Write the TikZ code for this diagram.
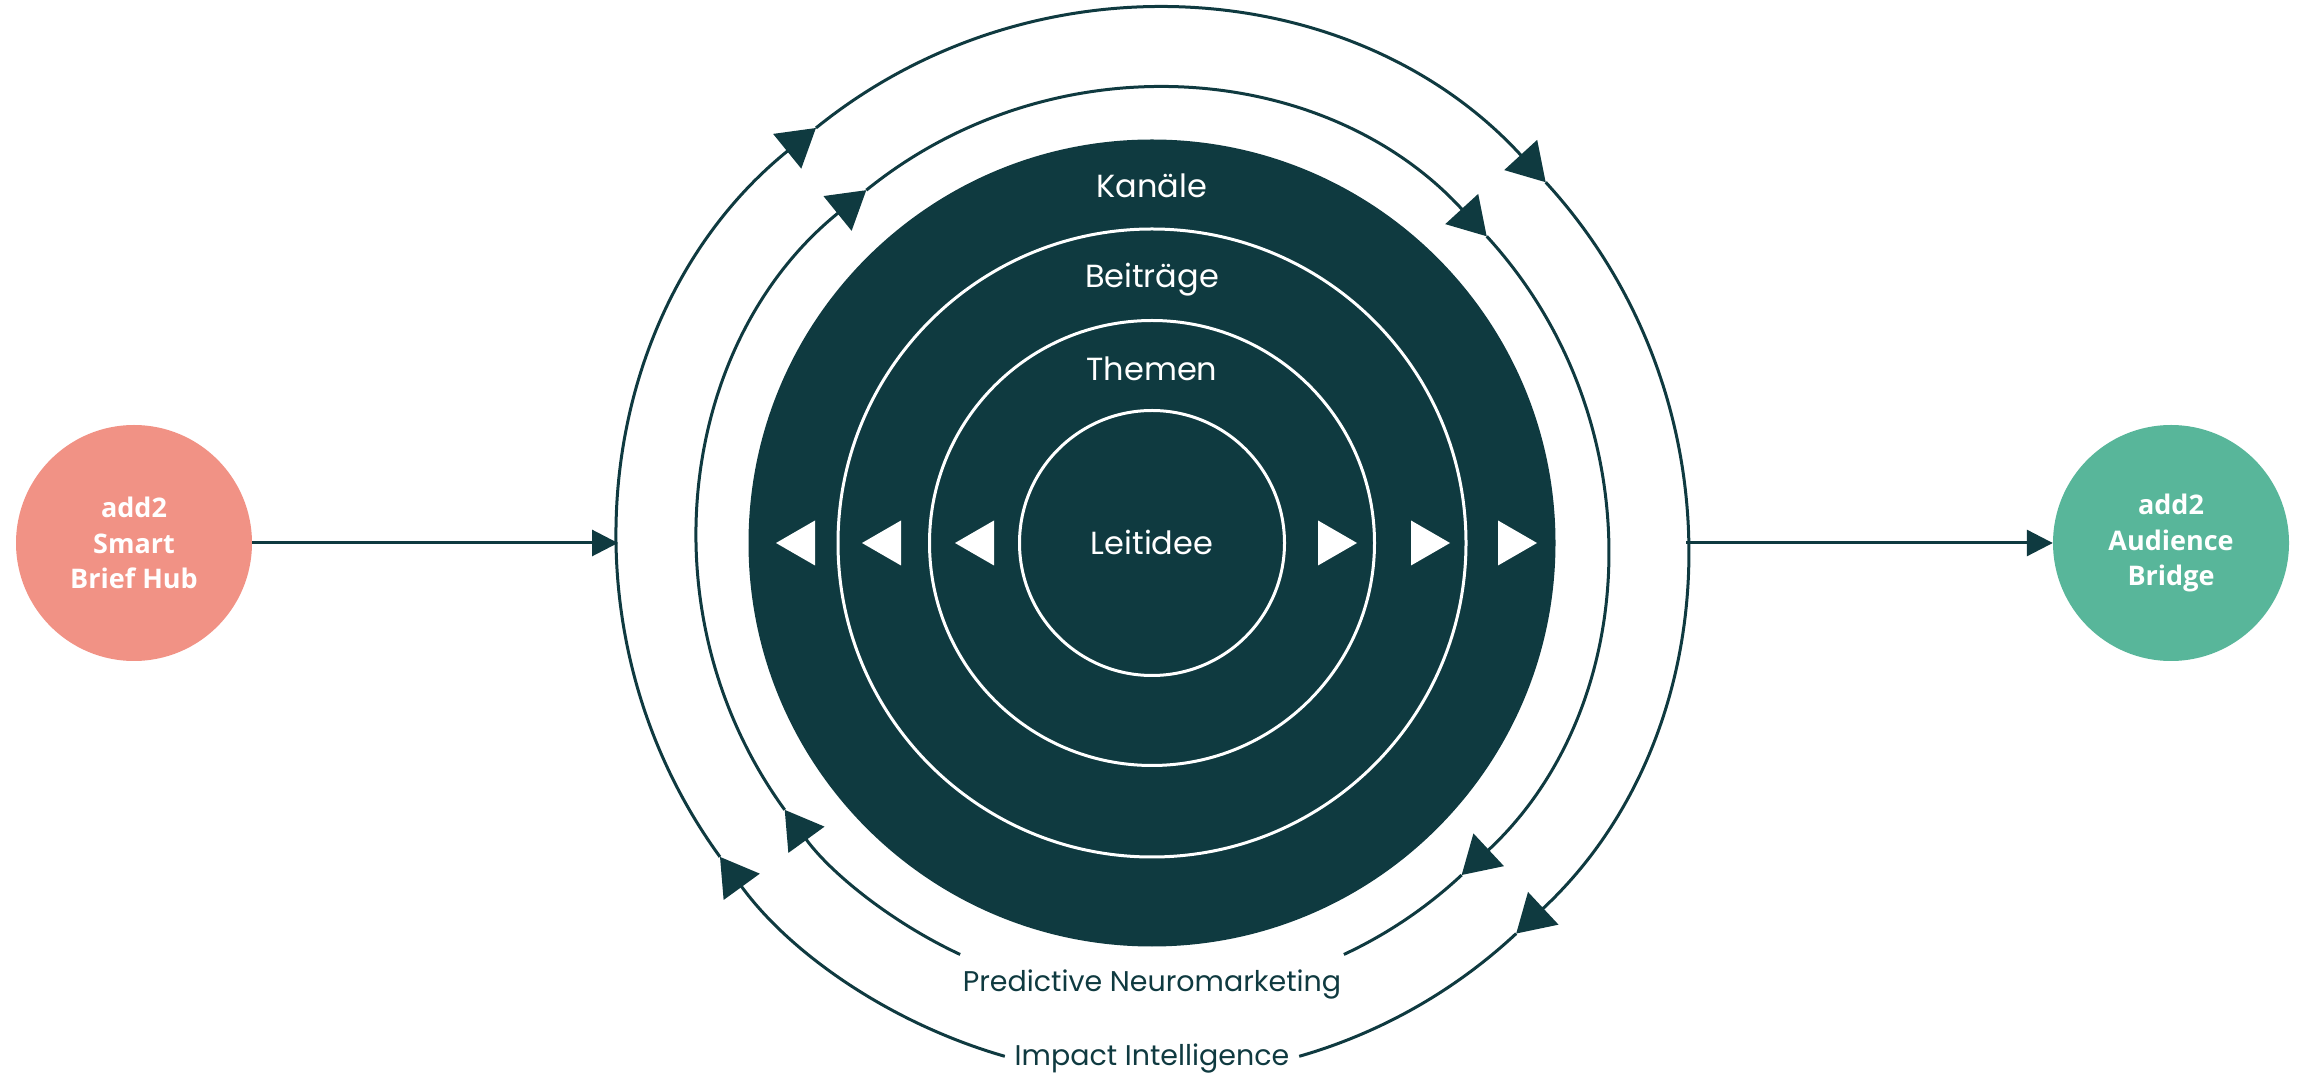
\documentclass[tikz,border=0pt]{standalone}
\usepackage{fontspec}
\setmainfont{Poppins}
\newfontfamily\hubfont{Open Sans}
\usetikzlibrary{arrows.meta,calc}
\definecolor{dteal}{RGB}{15,58,64}
\definecolor{salmon}{RGB}{241,146,133}
\definecolor{mint}{RGB}{88,182,154}
\tikzset{
  ring/.style={circle, draw=white, line width=3pt, inner sep=0pt},
  inlab/.style={text=white, font=\fontsize{32}{40}\selectfont, inner sep=0pt, anchor=base},
  outlab/.style={text=dteal, font=\fontsize{28.5}{36}\selectfont, inner sep=0pt, anchor=base},
  hub/.style={circle, inner sep=0pt, minimum size=236pt, text=white, align=center,
    font=\hubfont\bfseries\fontsize{27}{35.5}\selectfont},
  arcline/.style={draw=dteal, line width=3pt},
  arctip/.style={arcline, -{Triangle[length=37pt,width=44pt]}},
  conn/.style={draw=dteal, line width=3pt, -{Triangle[length=26pt,width=26pt]}},
  wtri/.style={fill=white}
}
\begin{document}
\begin{tikzpicture}[x=1pt,y=1pt]
\useasboundingbox (0,0) rectangle (2305,1074);
\coordinate (C) at (1152,531);
% central disc and rings
\node[circle, fill=dteal, inner sep=0pt, minimum size=807pt] (kan) at (C) {};
\node[ring, minimum size=628pt] (bei) at (C) {};
\node[ring, minimum size=445pt] (the) at (C) {};
\node[ring, minimum size=265pt] (lei) at (C) {};
% labels
\node[inlab] (tkan) at (1152,876) {Kanäle};
\node[inlab] (tbei) at (1152,786) {Beiträge};
\node[inlab] (tthe) at (1152,693) {Themen};
\node[inlab] (tlei) at (1152,519) {Leitidee};
% white triangles
\fill[wtri] (776,531) -- (815,553.5) -- (815,508.5) -- cycle;
\fill[wtri] (862,531) -- (901,553.5) -- (901,508.5) -- cycle;
\fill[wtri] (955,531) -- (994,553.5) -- (994,508.5) -- cycle;
\fill[wtri] (1357,531) -- (1318,553.5) -- (1318,508.5) -- cycle;
\fill[wtri] (1450,531) -- (1411,553.5) -- (1411,508.5) -- cycle;
\fill[wtri] (1537,531) -- (1498,553.5) -- (1498,508.5) -- cycle;
% inner cycle (Predictive Neuromarketing)
\draw[arctip] ($(C)+(245:454)$) arc[start angle=245, end angle=216, radius=454];
\draw[arctip] ($(C)+(216:454)$) arc[start angle=216, end angle=129, radius=454];
\draw[arctip] ($(C)+(129:454)$) arc[start angle=129, end angle=42.5, radius=454];
\draw[arctip] ($(C)+(42.5:454)$) arc[start angle=42.5, end angle=-47, radius=454];
\draw[arcline] ($(C)+(-47:454)$) arc[start angle=-47, end angle=-65, radius=454];
% outer cycle (Impact Intelligence)
\draw[arctip] ($(C)+(254:534)$) arc[start angle=254, end angle=216, radius=534];
\draw[arctip] ($(C)+(216:534)$) arc[start angle=216, end angle=129, radius=534];
\draw[arctip] ($(C)+(129:534)$) arc[start angle=129, end angle=42.5, radius=534];
\draw[arctip] ($(C)+(42.5:534)$) arc[start angle=42.5, end angle=-47, radius=534];
\draw[arcline] ($(C)+(-47:534)$) arc[start angle=-47, end angle=-74, radius=534];
% cycle labels
\node[outlab] (tpn) at (1152,83) {Predictive Neuromarketing};
\node[outlab] (tii) at (1152,9) {Impact Intelligence};
% side hubs
\node[hub, fill=salmon] (brief) at (134,531) {add2\\Smart\\Brief Hub};
\node[hub, fill=mint] (bridge) at (2171,531) {add2\\Audience\\Bridge};
\coordinate (inL) at ($(C)+(180:534)$);
\coordinate (outR) at ($(C)+(0:534)$);
\draw[conn] (brief) -- (inL);
\draw[conn] (outR) -- (bridge);
\end{tikzpicture}
\end{document}
